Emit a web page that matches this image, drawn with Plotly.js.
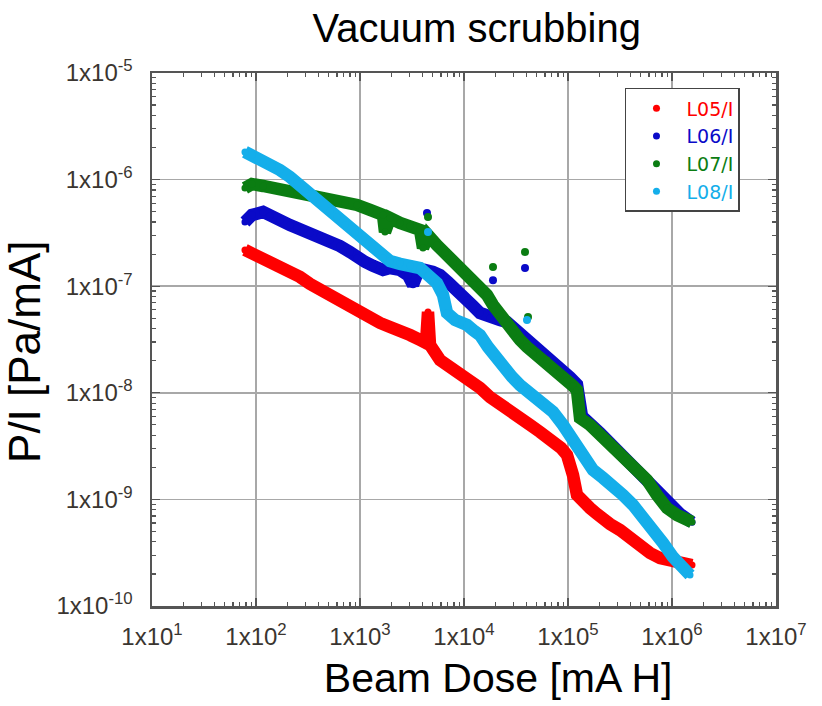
<!DOCTYPE html>
<html>
<head>
<meta charset="utf-8">
<script src="https://cdn.plot.ly/plotly-3.0.1.min.js"></script>
<style>html,body{margin:0;padding:0;background:#fff;}#chart{width:822px;height:706px;}</style>
</head>
<body>
<div id="chart"></div>
<script>
// ---- Data (Beam Dose [mA H], P/I [Pa/mA]) ----
const seriesNames = ['L05/I', 'L06/I', 'L07/I', 'L08/I'];
const seriesColors = ['#ff0000', '#0a0ac8', '#0b7d12', '#14aeea'];

const l05X = [78.3, 91.5, 109, 136, 170, 212, 265, 331, 413, 515, 642, 801, 1022, 1248, 1557, 1943, 2424, 3025, 3775, 4311, 4507, 4711, 5878, 7018, 8195, 9150, 10450, 12210, 14250, 17780, 22190, 27690, 34550, 43110, 53800, 64230, 74990, 85640, 97810, 104500, 111700, 122000, 139400, 162700, 190000, 217000, 253400, 316200, 377500, 460700, 549900, 614300, 766400, 915000, 1069000, 1305000, 1557000];
const l05Y = [2.19e-7, 2.05e-7, 1.84e-7, 1.69e-7, 1.51e-7, 1.36e-7, 1.22e-7, 1.05e-7, 9.21e-8, 8.09e-8, 7.11e-8, 6.25e-8, 5.37e-8, 4.92e-8, 4.52e-8, 4.14e-8, 3.88e-8, 3.48e-8, 3.13e-8, 2.93e-8, 5.73e-8, 2.81e-8, 2.03e-8, 1.82e-8, 1.64e-8, 1.47e-8, 1.38e-8, 1.21e-8, 1.11e-8, 9.13e-9, 7.69e-9, 6.75e-9, 5.80e-9, 4.99e-9, 4.29e-9, 3.85e-9, 3.46e-9, 3.04e-9, 2.61e-9, 2.24e-9, 1.69e-9, 1.10e-9, 9.25e-10, 8.30e-10, 7.30e-10, 6.41e-10, 5.88e-10, 5.16e-10, 4.44e-10, 3.90e-10, 3.35e-10, 3.14e-10, 2.82e-10, 2.70e-10, 2.59e-10, 2.53e-10, 2.42e-10];

const l06X = [78.3, 91.5, 117, 136, 170, 212, 248, 331, 413, 515, 642, 801, 936, 1117, 1334, 1664, 1943, 2424, 2894, 3232, 3612, 4217, 5033, 5878, 7018, 8195, 9150, 10690, 12210, 14250, 17780, 22190, 25920, 30940, 36120, 43110, 53800, 67130, 83790, 104500, 122000, 136300, 203100, 316200, 526300, 766400, 957000, 1194000, 1557000];
const l06Y = [4.00e-7, 4.66e-7, 4.97e-7, 4.56e-7, 4.18e-7, 3.75e-7, 3.52e-7, 3.16e-7, 2.96e-7, 2.71e-7, 2.38e-7, 2.09e-7, 1.84e-7, 1.69e-7, 1.55e-7, 1.42e-7, 1.48e-7, 1.42e-7, 1.27e-7, 1.03e-7, 1.36e-7, 1.42e-7, 1.36e-7, 1.27e-7, 1.09e-7, 9.62e-8, 8.82e-8, 7.42e-8, 6.52e-8, 5.61e-8, 5.03e-8, 4.82e-8, 4.61e-8, 4.00e-8, 3.50e-8, 3.00e-8, 2.60e-8, 2.15e-8, 1.75e-8, 1.40e-8, 1.20e-8, 6.00e-9, 4.20e-9, 2.70e-9, 1.70e-9, 1.15e-9, 8.60e-10, 7.30e-10, 6.10e-10];

const l07X = [78.3, 91.5, 117, 170, 248, 353, 515, 717, 936, 1248, 1664, 1739, 1943, 2424, 3025, 3775, 4034, 4507, 5500, 6566, 7840, 9150, 10690, 12210, 14250, 16640, 19000, 22190, 25920, 29590, 34550, 40350, 46070, 53800, 62830, 71740, 83790, 97810, 111700, 122000, 130500, 162700, 203100, 253400, 316200, 421700, 574900, 717400, 895300, 1117000, 1394000, 1557000];
const l07Y = [8.34e-7, 9.09e-7, 8.71e-7, 8.16e-7, 7.49e-7, 6.87e-7, 6.44e-7, 6.03e-7, 5.78e-7, 5.19e-7, 4.66e-7, 3.22e-7, 4.36e-7, 3.92e-7, 3.67e-7, 3.37e-7, 2.28e-7, 3.02e-7, 2.43e-7, 2.05e-7, 1.69e-7, 1.48e-7, 1.36e-7, 1.19e-7, 1.03e-7, 8.27e-8, 6.66e-8, 5.37e-8, 4.33e-8, 3.64e-8, 3.13e-8, 2.69e-8, 2.41e-8, 2.26e-8, 2.03e-8, 1.75e-8, 1.53e-8, 1.32e-8, 1.16e-8, 1.06e-8, 5.80e-9, 4.99e-9, 4.02e-9, 3.24e-9, 2.61e-9, 2.01e-9, 1.52e-9, 1.10e-9, 8.30e-10, 7.14e-10, 6.41e-10, 6.14e-10];

const l08X = [78.3, 91.5, 117, 143, 170, 212, 248, 296, 353, 413, 515, 601, 717, 895, 1069, 1305, 1664, 1943, 2424, 3025, 3775, 4507, 5500, 6283, 6864, 8195, 9567, 10690, 12210, 14250, 17010, 20770, 24790, 28940, 34550, 41250, 53800, 71740, 89530, 111700, 139400, 173900, 217000, 270800, 337900, 421700, 526300, 656600, 819500, 1022000, 1221000, 1490000];
const l08Y = [1.82e-6, 1.70e-6, 1.46e-6, 1.34e-6, 1.23e-6, 1.06e-6, 9.29e-7, 7.99e-7, 6.87e-7, 6.03e-7, 5.07e-7, 4.46e-7, 3.75e-7, 3.16e-7, 2.71e-7, 2.23e-7, 1.84e-7, 1.72e-7, 1.62e-7, 1.55e-7, 1.48e-7, 1.27e-7, 1.07e-7, 8.27e-8, 5.61e-8, 4.82e-8, 4.61e-8, 4.33e-8, 3.88e-8, 3.48e-8, 2.69e-8, 2.03e-8, 1.71e-8, 1.41e-8, 1.18e-8, 1.02e-8, 8.20e-9, 6.61e-9, 4.99e-9, 3.61e-9, 2.61e-9, 1.89e-9, 1.59e-9, 1.36e-9, 1.10e-9, 8.86e-10, 6.84e-10, 5.39e-10, 3.90e-10, 2.88e-10, 2.37e-10, 1.95e-10];

// isolated points
const l06OutX = [4408, 19000, 38600];
const l06OutY = [4.86e-7, 1.14e-7, 1.48e-7];
const l07OutX = [4507, 19000, 38600, 41250];
const l07OutY = [4.46e-7, 1.51e-7, 2.09e-7, 5.14e-8];
const l08OutX = [4507, 40350];
const l08OutY = [3.22e-7, 4.82e-8];

const xTickVals = [1e1, 1e2, 1e3, 1e4, 1e5, 1e6, 1e7];
const xTickText = ['1x10<sup>1</sup>', '1x10<sup>2</sup>', '1x10<sup>3</sup>', '1x10<sup>4</sup>', '1x10<sup>5</sup>', '1x10<sup>6</sup>', '1x10<sup>7</sup>'];
const yTickVals = [1e-10, 1e-9, 1e-8, 1e-7, 1e-6, 1e-5];
const yTickText = ['1x10<sup>-10</sup>', '1x10<sup>-9</sup>', '1x10<sup>-8</sup>', '1x10<sup>-7</sup>', '1x10<sup>-6</sup>', '1x10<sup>-5</sup>'];

// ---- build traces ----
const xs = [l05X, l06X, l07X, l08X];
const ys = [l05Y, l06Y, l07Y, l08Y];
const outs = [null, [l06OutX, l06OutY], [l07OutX, l07OutY], [l08OutX, l08OutY]];
const traces = [];
for (let i = 0; i < 4; i++) {
  traces.push({
    type: 'scatter', mode: 'lines', x: xs[i], y: ys[i],
    line: {color: seriesColors[i], width: 12.5}, showlegend: false, hoverinfo: 'skip'
  });
  traces.push({
    type: 'scatter', mode: 'markers', x: xs[i], y: ys[i],
    marker: {color: seriesColors[i], size: 7},
    name: '<span style="color:' + seriesColors[i] + '">' + seriesNames[i] + '</span>',
    legendgroup: 'g' + i, showlegend: true
  });
  if (outs[i]) {
    traces.push({
      type: 'scatter', mode: 'markers', x: outs[i][0], y: outs[i][1],
      marker: {color: seriesColors[i], size: 8}, legendgroup: 'g' + i, showlegend: false
    });
  }
}

function minorVals(lo, hi) {
  const v = [];
  for (let e = lo; e < hi; e++) for (let m = 2; m <= 9; m++) v.push(m * Math.pow(10, e));
  return v;
}

const fontFam = 'Liberation Sans, Arial, sans-serif';
const axisCommon = {
  type: 'log', tickmode: 'array', ticks: 'inside', ticklen: 8, tickwidth: 1.2, tickcolor: '#555',
  showline: true, linecolor: '#555', linewidth: 2.5, mirror: 'allticks',
  showgrid: true, gridcolor: '#a8a8a8', gridwidth: 1.5, zeroline: false,
  tickfont: {family: fontFam, size: 24, color: '#3a3530'}
};

const layout = {
  width: 822, height: 706,
  margin: {l: 152, r: 46, t: 73, b: 100},
  paper_bgcolor: '#ffffff', plot_bgcolor: '#ffffff',
  font: {family: fontFam},
  title: {
    text: 'Vacuum scrubbing', font: {family: fontFam, size: 40, color: '#000'},
    x: 0.58, xref: 'container', xanchor: 'center', y: 0.96, yref: 'container', yanchor: 'middle'
  },
  xaxis: Object.assign({}, axisCommon, {
    range: [1, 7], tickvals: xTickVals, ticktext: xTickText, ticklabelstandoff: 8,
    minor: {tickvals: minorVals(1, 7), ticks: 'inside', ticklen: 4, tickcolor: '#555', showgrid: false},
    title: {text: '&nbsp;&nbsp;&nbsp;&nbsp;&nbsp;&nbsp;Beam Dose [mA H]', font: {family: fontFam, size: 41, color: '#000'}, standoff: 14}
  }),
  yaxis: Object.assign({}, axisCommon, {
    range: [-10, -5], tickvals: yTickVals, ticktext: yTickText, ticklabelstandoff: 12,
    minor: {tickvals: minorVals(-10, -5), ticks: 'inside', ticklen: 4, tickcolor: '#555', showgrid: false},
    title: {text: 'P/I [Pa/mA]&nbsp;&nbsp;', font: {family: fontFam, size: 44, color: '#000'}, standoff: 4}
  }),
  legend: {
    x: 0.758, y: 0.972, xanchor: 'left', yanchor: 'top',
    bgcolor: '#ffffff', bordercolor: '#444', borderwidth: 1.5,
    font: {family: 'DejaVu Sans, sans-serif', size: 19}, tracegroupgap: 0, itemwidth: 50, traceorder: 'grouped'
  },
  showlegend: true
};

Plotly.newPlot('chart', traces, layout, {displayModeBar: false, staticPlot: true});
</script>
</body>
</html>
